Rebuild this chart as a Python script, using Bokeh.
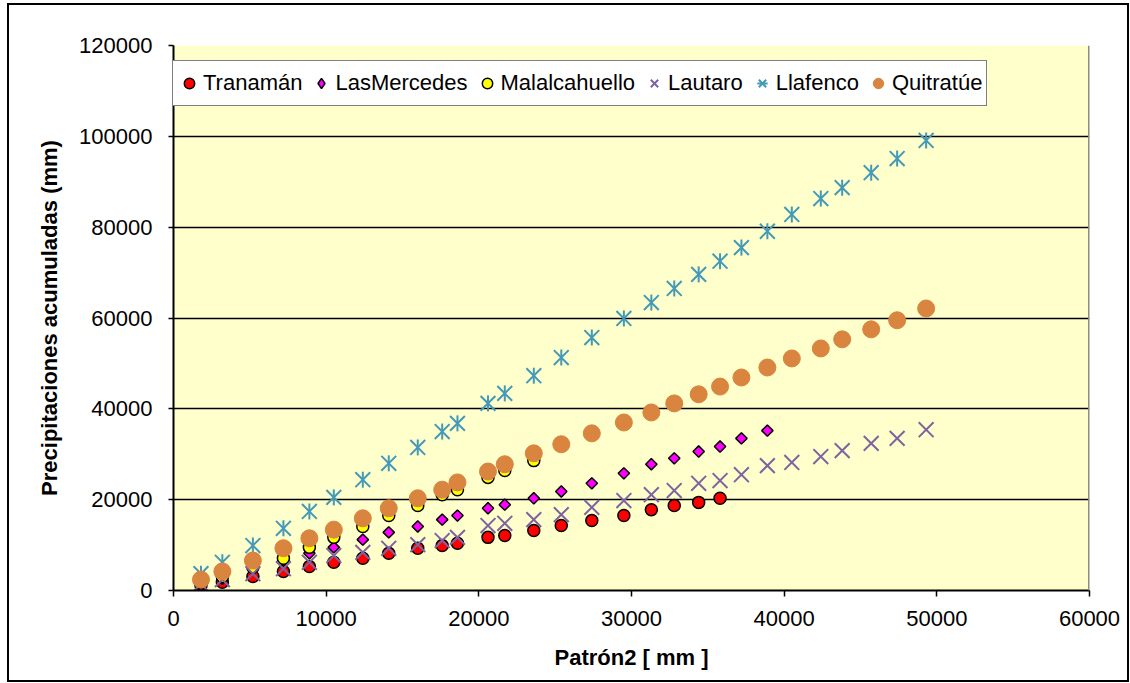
from bokeh.plotting import figure
from bokeh.models import (Range1d, FixedTicker, Legend, LegendItem, Span,
                          NumeralTickFormatter)
from bokeh.embed import file_html
from bokeh.resources import INLINE
import numpy as np

# Accumulated precipitation of each station against the reference station "Patrón2"
patron2 = [1800, 3200, 5200, 7200, 8900, 10500, 12400, 14100, 16000, 17600,
           18600, 20600, 21700, 23600, 25400, 27400, 29500, 31300, 32800, 34400,
           35800, 37200, 38900, 40500, 42400, 43800, 45700, 47400, 49300]

tranaman = [1100, 1800, 3100, 4200, 5300, 6200, 7100, 8200, 9300, 9900,
            10400, 11700, 12100, 13200, 14300, 15400, 16500, 17800, 18700, 19400,
            20300]
las_mercedes = [1100, 2600, 4800, 6600, 8200, 9500, 11200, 12800, 14100, 15600,
                16500, 18100, 18900, 20300, 21800, 23600, 25800, 27800, 29100, 30600,
                31700, 33500, 35200]
malalcahuello = [1800, 3100, 5100, 7100, 9500, 11700, 14100, 16500, 18700, 21100,
                 22200, 24900, 26400, 28600]
lautaro = [1500, 2400, 3700, 4800, 6200, 7700, 8400, 9300, 10100, 11000,
           11700, 14300, 14800, 15600, 16700, 18300, 19800, 21100, 22000, 23600,
           24200, 25500, 27500, 28200, 29500, 30800, 32400, 33500, 35400]
llafenco = [3700, 6200, 9900, 13700, 17400, 20500, 24400, 28000, 31500, 35000,
            36800, 41200, 43400, 47300, 51300, 55700, 59900, 63400, 66500, 69600,
            72500, 75500, 79100, 82800, 86300, 88700, 92000, 95100, 99100]
quitratue = [2400, 4200, 6600, 9300, 11500, 13400, 15900, 18100, 20300, 22200,
             23800, 26200, 27800, 30200, 32200, 34600, 37000, 39200, 41200, 43200,
             44900, 46900, 49100, 51100, 53300, 55300, 57500, 59500, 62100]

x_ticks = [0, 10000, 20000, 30000, 40000, 50000, 60000]
y_ticks = [0, 20000, 40000, 60000, 80000, 100000, 120000]

FONT = "Liberation Sans"
NAN = [np.nan]

p = figure(width=1130, height=683, output_backend="svg", toolbar_location=None,
           x_range=Range1d(0, 60000), y_range=Range1d(0, 120000),
           min_border_left=173, min_border_right=41, min_border_top=45,
           min_border_bottom=93)

# thin frame around the whole chart, painted as the element background and
# seen through the transparent border area of the canvas
line = "linear-gradient(#000, #000)"
p.styles = {
    "background-color": "white",
    "background-image": ", ".join([line] * 4),
    "background-position": "7px 3px, 1127px 3px, 7px 3px, 7px 680px",
    "background-size": "2px 679px, 2px 679px, 1122px 2px, 1122px 2px",
    "background-repeat": "no-repeat",
}
p.border_fill_color = "white"
p.border_fill_alpha = 0

p.background_fill_color = "#FFFFCC"
p.outline_line_color = None

# axes
for ax in (p.xaxis[0], p.yaxis[0]):
    ax.axis_line_color = "black"
    ax.axis_line_width = 2
    ax.major_tick_line_color = "black"
    ax.major_tick_line_width = 1.5
    ax.major_tick_in = 0
    ax.minor_tick_line_color = None
    ax.major_label_text_font = FONT
    ax.major_label_text_font_size = "22px"
    ax.major_label_text_color = "black"
    ax.axis_label_text_font = FONT
    ax.axis_label_text_font_size = "22px"
    ax.axis_label_text_font_style = "bold"
    ax.axis_label_text_color = "black"
    ax.formatter = NumeralTickFormatter(format="0")

p.xaxis.ticker = FixedTicker(ticks=x_ticks)
p.yaxis.ticker = FixedTicker(ticks=y_ticks)
p.xaxis.major_tick_out = 6
p.yaxis.major_tick_out = 5
p.xaxis.major_label_standoff = 14
p.yaxis.major_label_standoff = 16
p.xaxis.axis_label = "Patrón2 [ mm ]"
p.yaxis.axis_label = "Precipitaciones acumuladas (mm)"
p.xaxis.axis_label_standoff = 16
p.yaxis.axis_label_standoff = 14

p.xgrid.grid_line_color = None
p.ygrid.grid_line_color = "black"
p.ygrid.grid_line_width = 1.3

# right edge of the plot area
p.add_layout(Span(location=60000, dimension="height", line_color="#8C8C8C",
                  line_width=3))

# series, drawn in series order
r_tra = p.scatter(patron2[:len(tranaman)], tranaman, marker="circle", size=12,
                  fill_color="#FF0000", line_color="black", line_width=1.5)
r_las = p.scatter(patron2[:len(las_mercedes)], las_mercedes, marker="square",
                  angle=np.pi / 4, size=8, fill_color="#FF00FF",
                  line_color="black", line_width=1.5)
r_mal = p.scatter(patron2[:len(malalcahuello)], malalcahuello, marker="circle",
                  size=12, fill_color="#FFFF00", line_color="black", line_width=1.5)
r_lau = p.scatter(patron2, lautaro, marker="x", size=21, line_color="#7F63A1",
                  line_width=2)
r_lla1 = p.scatter(patron2, llafenco, marker="x", size=21, line_color="#4399B8",
                   line_width=2)
r_lla2 = p.scatter(patron2, llafenco, marker="dash", angle=np.pi / 2, size=16,
                   line_color="#4399B8", line_width=2)
r_qui = p.scatter(patron2, quitratue, marker="circle", size=17,
                  fill_color="#D9843F", line_color="#D9843F", line_width=1)

# legend key for the diamond series (upright diamond shape)
k_las = p.scatter(NAN, NAN, marker="diamond", size=8, fill_color="#FF00FF",
                  line_color="black", line_width=1.5)

legend = Legend(items=[
    LegendItem(label="Tranamán", renderers=[r_tra]),
    LegendItem(label="LasMercedes", renderers=[k_las]),
    LegendItem(label="Malalcahuello", renderers=[r_mal]),
    LegendItem(label="Lautaro", renderers=[r_lau]),
    LegendItem(label="Llafenco", renderers=[r_lla1, r_lla2]),
    LegendItem(label="Quitratúe", renderers=[r_qui]),
], orientation="horizontal", location=(-2, 484), margin=0,
    padding=4, spacing=6, glyph_width=26, glyph_height=36, label_height=36,
    label_standoff=1, label_text_font=FONT, label_text_font_size="22px",
    label_text_color="black", background_fill_color="white",
    background_fill_alpha=1, border_line_color="black", border_line_width=1.5)
p.add_layout(legend, "center")

open("out.html", "w").write(file_html(p, INLINE))
